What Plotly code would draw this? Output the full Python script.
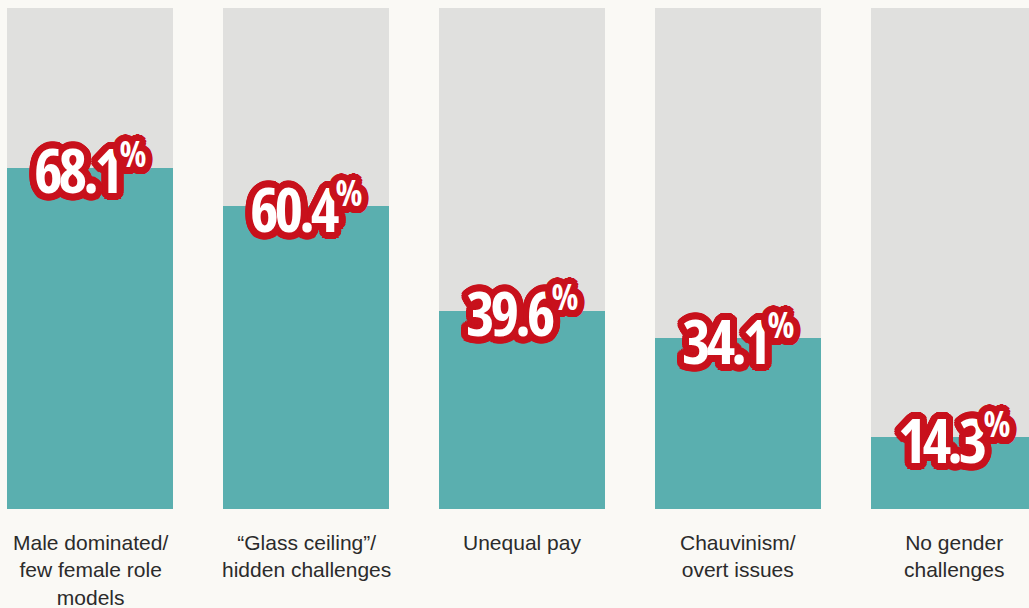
import math
import plotly.graph_objects as go

categories = ["Male dominated/<br>few female role<br>models", "“Glass ceiling”/<br>hidden challenges",
              "Unequal pay", "Chauvinism/<br>overt issues", "No gender<br>challenges"]
values = [68.1, 60.4, 39.6, 34.1, 14.3]
full = [100, 100, 100, 100, 100]

BG = "#faf9f5"
GRAY = "#e0e0de"
TEAL = "#5aafaf"
RED = "#c8111c"

xs = list(range(len(categories)))

fig = go.Figure()
fig.add_trace(go.Bar(x=xs, y=full, marker=dict(color=GRAY, line=dict(width=0)), width=0.7685,
                     hoverinfo="skip", showlegend=False))
fig.add_trace(go.Bar(x=xs, y=values, marker=dict(color=TEAL, line=dict(width=0)), width=0.7685,
                     showlegend=False))

parts = []
for rr, n in ((7, 28), (5, 20), (3, 12)):
    for k in range(n):
        a = 2 * math.pi * k / n
        parts.append(f"{rr*math.cos(a):.1f}px {rr*math.sin(a):.1f}px 0 {RED}")
shadow = ", ".join(parts)

for i, (x, v) in enumerate(zip(xs, values)):
    fig.add_annotation(x=x, y=v, xref="x", yref="y",
                       text=(f"<b><span style='font-stretch:75%;letter-spacing:-4px'>{v:.1f}</span>"
                             f"<sup><span style='font-stretch:75%;font-size:35px'>%</span></sup></b>"),
                       showarrow=False, xanchor="center", yanchor="middle", yshift=-2,
                       font=dict(family="Open Sans", size=61, color="white", shadow=shadow))
    fig.add_annotation(x=x, y=0, xref="x", yref="y", text=categories[i], showarrow=False,
                       xanchor="center", yanchor="top", yshift=-20, align="center",
                       font=dict(family="Liberation Sans", size=21, color="#2b2b2b"))

fig.update_layout(
    width=1029, height=608,
    margin=dict(l=0, r=0, t=8, b=99),
    paper_bgcolor=BG, plot_bgcolor=BG,
    barmode="overlay", bargap=0,
    xaxis=dict(range=[-90/216, (1029-90)/216], showticklabels=False, showgrid=False, zeroline=False,
               fixedrange=True),
    yaxis=dict(range=[0, 100], visible=False, showgrid=False, zeroline=False, fixedrange=True),
)

fig.write_html("out.html")
